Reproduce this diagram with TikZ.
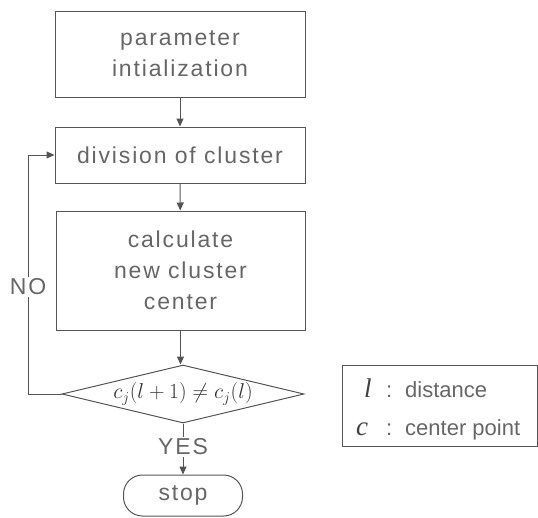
\documentclass[tikz,border=0pt]{standalone}
\usepackage{fix-cm}
\usepackage{fontspec}
\setmainfont{Liberation Sans}
\newfontfamily\trk{Liberation Sans}[LetterSpace=8]
\newfontfamily\serifit{Liberation Serif}
\usetikzlibrary{arrows.meta,shapes.geometric}
\definecolor{ln}{gray}{0.33}
\definecolor{tx}{gray}{0.4}
\begin{document}
\begin{tikzpicture}[x=1pt,y=-1pt,
  box/.style={draw=ln, line width=1pt, rectangle, inner sep=0pt, align=center, text=tx, font=\trk\fontsize{23}{31}\selectfont},
  arr/.style={draw=ln, line width=1pt, -{Triangle[length=8pt,width=7pt]}},
  lbl/.style={text=tx, font=\trk\fontsize{23}{28}\selectfont, fill=white, inner sep=1.5pt},
  legtxt/.style={anchor=base west, inner sep=0pt, text=tx, font=\fontsize{22}{26}\selectfont}]
\useasboundingbox (0,0) rectangle (538,517);
\node[box, minimum width=250pt, minimum height=86pt] (init) at (180,54) {parameter\\intialization};
\node[box, minimum width=250pt, minimum height=56pt] (div) at (180,155) {division of cluster};
\node[box, minimum width=249pt, minimum height=119pt] (calc) at (180.5,270.5) {calculate\\new cluster\\center};
\node[draw=ln, line width=1pt, diamond, shape aspect=4.2, minimum width=242pt, minimum height=58pt, inner sep=0pt, text=black!80, font=\fontsize{21.5}{24}\selectfont] (test) at (183,394) {$c_j(l+1)\neq c_j(l)$};
\node[draw=ln, line width=1pt, rectangle, rounded corners=19pt, minimum width=119pt, minimum height=41pt, inner sep=0pt, text=tx, font=\trk\fontsize{23}{28}\selectfont] (stop) at (183,495.5) {stop};
\node[draw=ln, line width=1pt, rectangle, minimum width=195pt, minimum height=81pt, inner sep=0pt] (legend) at (439.5,405.5) {};
\node[legtxt, font=\serifit\itshape\fontsize{27}{27}\selectfont, text=black!75] (lsym) at (364,397) {l};
\node[legtxt] (lcol) at (386,397) {:};
\node[legtxt] (ldist) at (405,397) {distance};
\node[legtxt, font=\serifit\itshape\fontsize{27}{27}\selectfont, text=black!75] (csym) at (356,435) {c};
\node[legtxt] (ccol) at (386,435) {:};
\node[legtxt] (cpt) at (405,435) {center point};
\draw[arr] (init) -- (div);
\draw[arr] (div) -- (calc);
\draw[arr] (calc.south) -- (calc.south |- test.north);
\coordinate (c1) at (28,394);
\coordinate (c2) at (28,155);
\draw[arr] (test.west) -- (c1) -- (c2) -- (div.west);
\node[lbl] (no) at (28,287) {NO};
\draw[arr] (test.south) -- (stop.north);
\node[lbl] (yes) at (183,447) {YES};
\end{tikzpicture}
\end{document}
